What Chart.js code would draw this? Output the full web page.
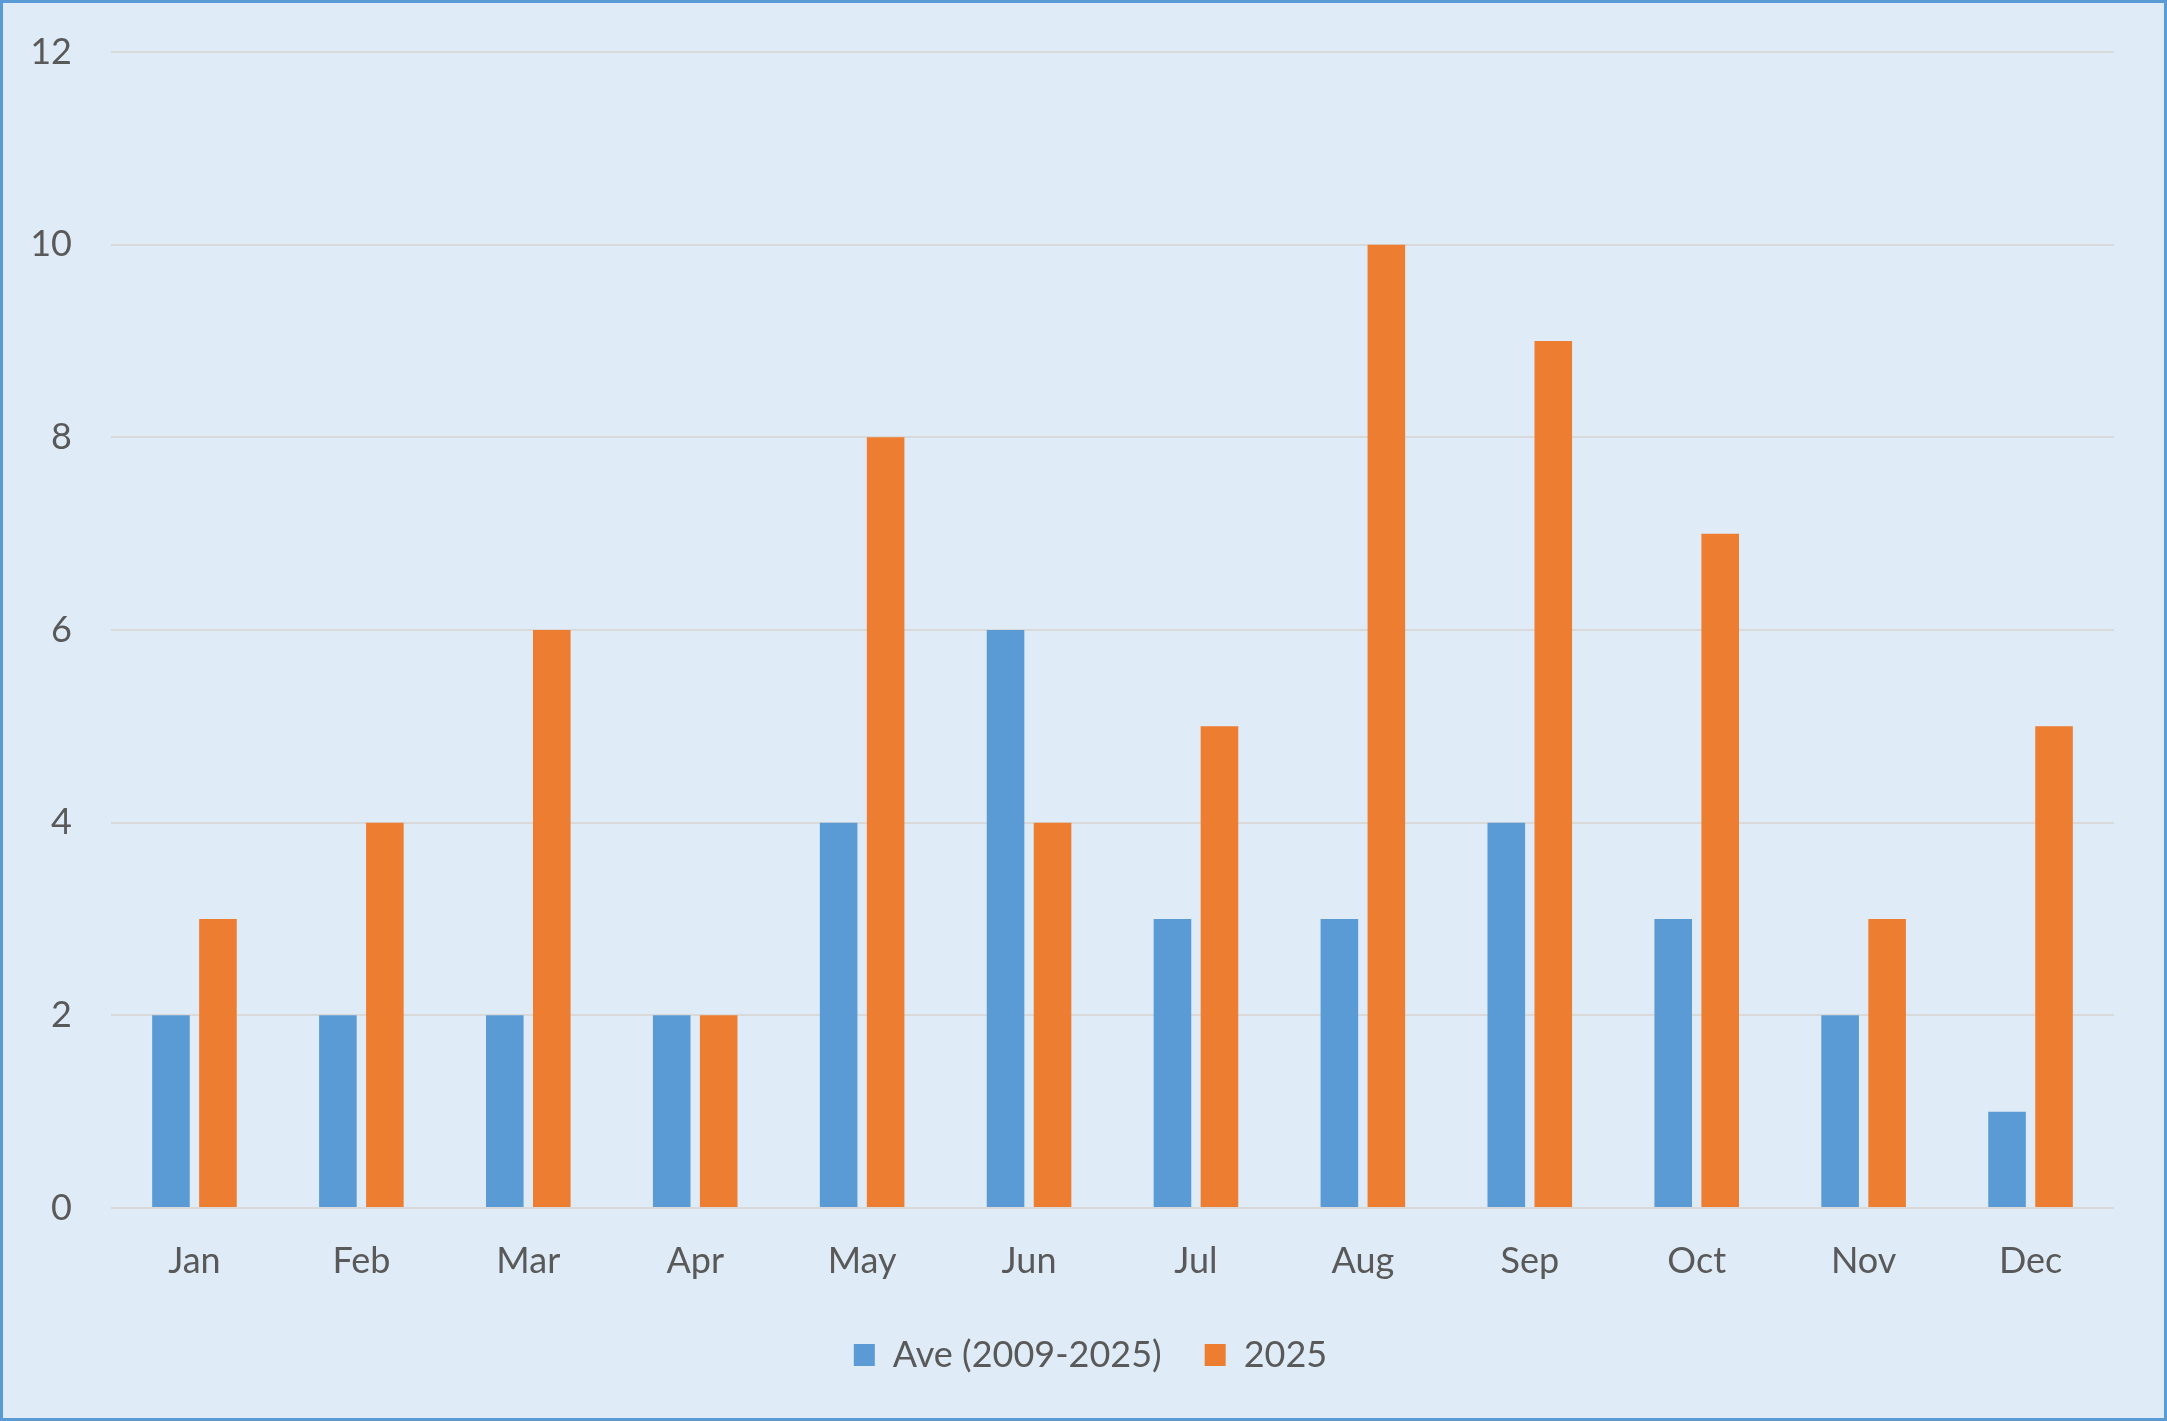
<!DOCTYPE html>
<html>
<head>
<meta charset="utf-8">
<script src="https://cdn.jsdelivr.net/npm/chart.js@4"></script>
<style>
  html, body { margin: 0; padding: 0; background: #dfebf7; }
  #box {
    width: 2167px; height: 1421px; box-sizing: border-box;
    border: 3px solid #5b9bd5; background: #dfebf7;
  }
  canvas { display: block; }
</style>
</head>
<body>
<div id="box"><canvas id="monthChart" width="2161" height="1415"></canvas></div>
<script>
// monthly counts
const months = ["Jan", "Feb", "Mar", "Apr", "May", "Jun", "Jul", "Aug", "Sep", "Oct", "Nov", "Dec"];
const aveValues = [2, 2, 2, 2, 4, 6, 3, 3, 4, 3, 2, 1];
const thisYear = [3, 4, 6, 2, 8, 4, 5, 10, 9, 7, 3, 5];
const seriesNames = ["Ave (2009-2025)", "2025"];

const textColor = "#595959";
const fontFamily = "Lato, 'Open Sans', sans-serif";

// legend sits a little right of the canvas centre in the original
const legendNudge = {
  id: "legendNudge",
  afterLayout(chart) {
    chart.legend.left += 32;
    chart.legend.right += 32;
  },
};

const ctx = document.getElementById("monthChart").getContext("2d");
new Chart(ctx, {
  type: "bar",
  data: {
    labels: months,
    datasets: [
      {
        label: seriesNames[0],
        data: aveValues,
        backgroundColor: "#5b9bd5",
        categoryPercentage: 0.563,
        barPercentage: 0.8,
      },
      {
        label: seriesNames[1],
        data: thisYear,
        backgroundColor: "#ed7d31",
        categoryPercentage: 0.563,
        barPercentage: 0.8,
      },
    ],
  },
  options: {
    responsive: false,
    animation: false,
    layout: {
      padding: { top: 49, left: 0, right: 50, bottom: 35 },
    },
    plugins: {
      tooltip: { enabled: false },
      legend: {
        position: "bottom",
        labels: {
          color: textColor,
          font: { family: fontFamily, size: 36 },
          boxWidth: 21,
          boxHeight: 22,
          padding: 43,
        },
      },
    },
    scales: {
      x: {
        grid: { display: false },
        border: { display: false },
        ticks: {
          color: textColor,
          font: { family: fontFamily, size: 36 },
          padding: 24,
          maxRotation: 0,
        },
        afterFit: (scale) => { scale.height = 86; },
      },
      y: {
        min: 0,
        max: 12,
        ticks: {
          stepSize: 2,
          color: textColor,
          font: { family: fontFamily, size: 36 },
          padding: 8,
        },
        // invisible tick marks push the labels away from the plot
        grid: { color: "#d9d9d9", lineWidth: 2, drawTicks: true, tickLength: 31, tickColor: "rgba(0,0,0,0)" },
        border: { display: false },
        afterFit: (scale) => { scale.width = 108; },
      },
    },
  },
  plugins: [legendNudge],
});
</script>
</body>
</html>
